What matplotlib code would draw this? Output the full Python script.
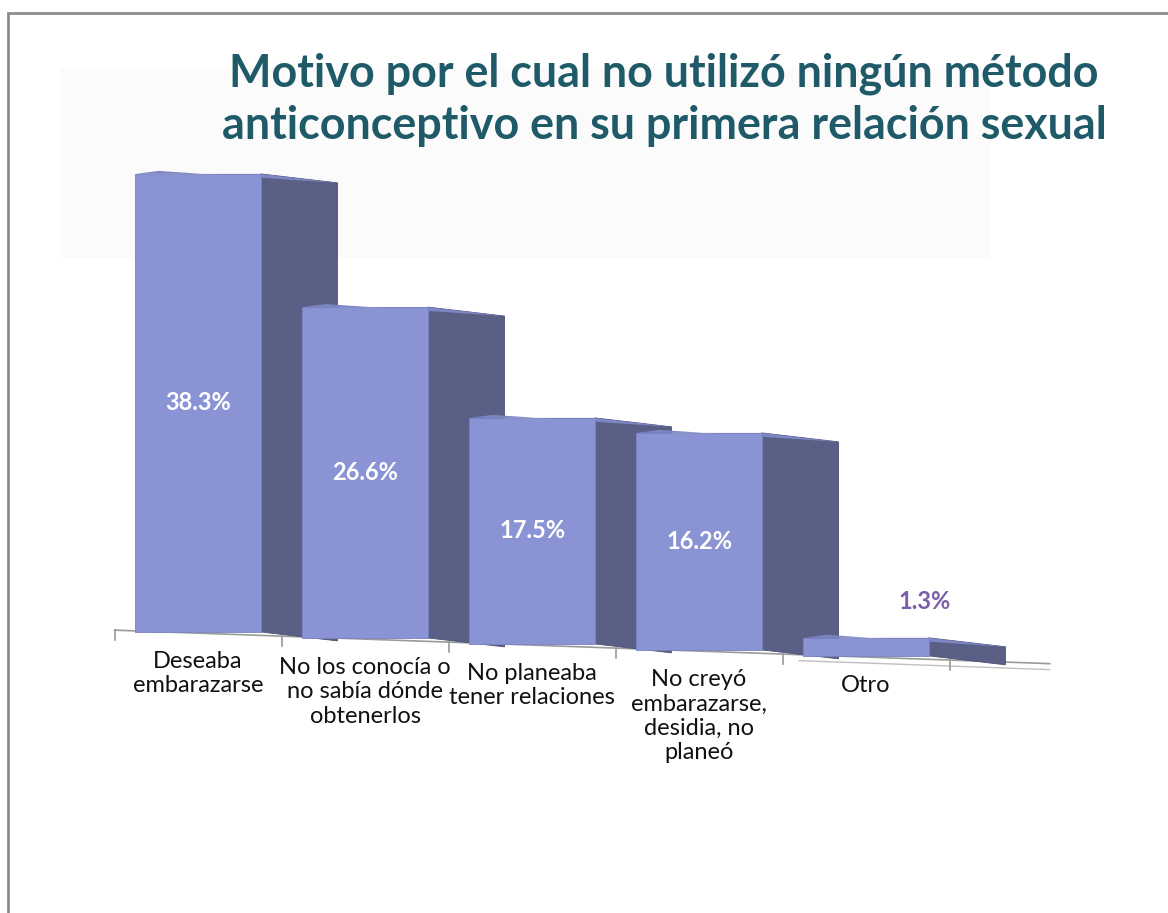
import numpy as np
import matplotlib.pyplot as plt
from matplotlib.patches import Polygon, Rectangle

categorias = ['Deseaba\nembarazarse',
              'No los conocía o\nno sabía dónde\nobtenerlos',
              'No planeaba\ntener relaciones',
              'No creyó\nembarazarse,\ndesidia, no\nplaneó',
              'Otro']
valores = [38.3, 26.6, 17.5, 16.2, 1.3]
etiquetas = ['38.3%', '26.6%', '17.5%', '16.2%', '1.3%']

titulo = 'Motivo por el cual no utilizó ningún método\nanticonceptivo en su primera relación sexual'

color_frente = '#8a93d3'
color_lado = '#5a5f85'
color_titulo = '#1f5a68'

fig = plt.figure(figsize=(11.68, 9.13), dpi=100)
ax = fig.add_axes([0, 0, 1, 1])
ax.set_xlim(-1.186, 5.808)
ax.set_ylim(-23.5, 52.84)
ax.axis('off')

# marco gris y sombra muy tenue del fondo
fig.patches.append(Rectangle((8 / 1168, -0.1), 1.2, 1 - 13 / 913 + 0.1,
                             transform=fig.transFigure, fill=False,
                             edgecolor='#8c8c8c', linewidth=2))
ax.add_patch(Rectangle((60 / 1168, 1 - 258 / 913), 930 / 1168, 190 / 913,
                       transform=ax.transAxes, facecolor='#fbfbfb',
                       edgecolor='none', zorder=0))

ancho = 0.75
fondo = 0.46
caida = 0.75       # la cara lateral baja un poco hacia la derecha
inclinacion = 0.5  # la base baja por cada barra
perspectiva = 0.04 # las barras de la derecha se ven algo más altas

# eje base con marcas
xb = np.array([-0.5, 5.1])
ax.plot(xb, -inclinacion * xb - 0.1, color='#9a9a9a', lw=1.2, zorder=1)
xf = np.array([3.6, 5.1])
ax.plot(xf, -inclinacion * xf - 0.6, color='#c0c0c0', lw=1, zorder=1)
for t in np.arange(-0.5, 5.0, 1.0):
    yb = -inclinacion * t - 0.1
    ax.plot([t, t], [yb, yb - 0.8], color='#9a9a9a', lw=1.2, zorder=1)

for i, v in enumerate(valores):
    b = -inclinacion * i
    h = v * (1 + perspectiva * i)
    x0 = i - ancho / 2
    x1 = i + ancho / 2
    lado = Polygon([(x1, b), (x1 + fondo, b - caida), (x1 + fondo, b + h - caida),
                    (x1, b + h)], closed=True, facecolor=color_lado,
                   edgecolor='#4d5275', lw=0.6, zorder=2 + i)
    tapa = Polygon([(x0, b + h), (x1, b + h), (x1 + fondo, b + h - caida),
                    (x0 + fondo * 0.3, b + h + 0.25)], closed=True,
                   facecolor='#7d86c4', edgecolor='none', zorder=2 + i)
    frente = Rectangle((x0, b), ancho, h, facecolor=color_frente,
                       edgecolor='#7a83c0', lw=0.6, zorder=2.1 + i)
    ax.add_patch(lado)
    ax.add_patch(tapa)
    ax.add_patch(frente)
    if v > 5:
        ax.text(i, b + h / 2, etiquetas[i], ha='center', va='center',
                color='white', fontsize=17, fontweight='bold',
                family='Lato', zorder=10)
    else:
        ax.text(i + 0.35, b + h + 3.0, etiquetas[i], ha='center', va='center',
                color='#7b5ea7', fontsize=17, fontweight='bold',
                family='Lato', zorder=10)
    ax.text(i, b - 1.6, categorias[i], ha='center', va='top',
            fontsize=17, family='Lato', color='#111111',
            linespacing=1.2, zorder=10)

fig.text(664 / 1168, 1 - 100 / 913, titulo, ha='center', va='center',
         fontsize=32.3, fontweight='bold', family='Lato', color=color_titulo,
         linespacing=1.3)

fig.savefig('out.png', dpi=100)
